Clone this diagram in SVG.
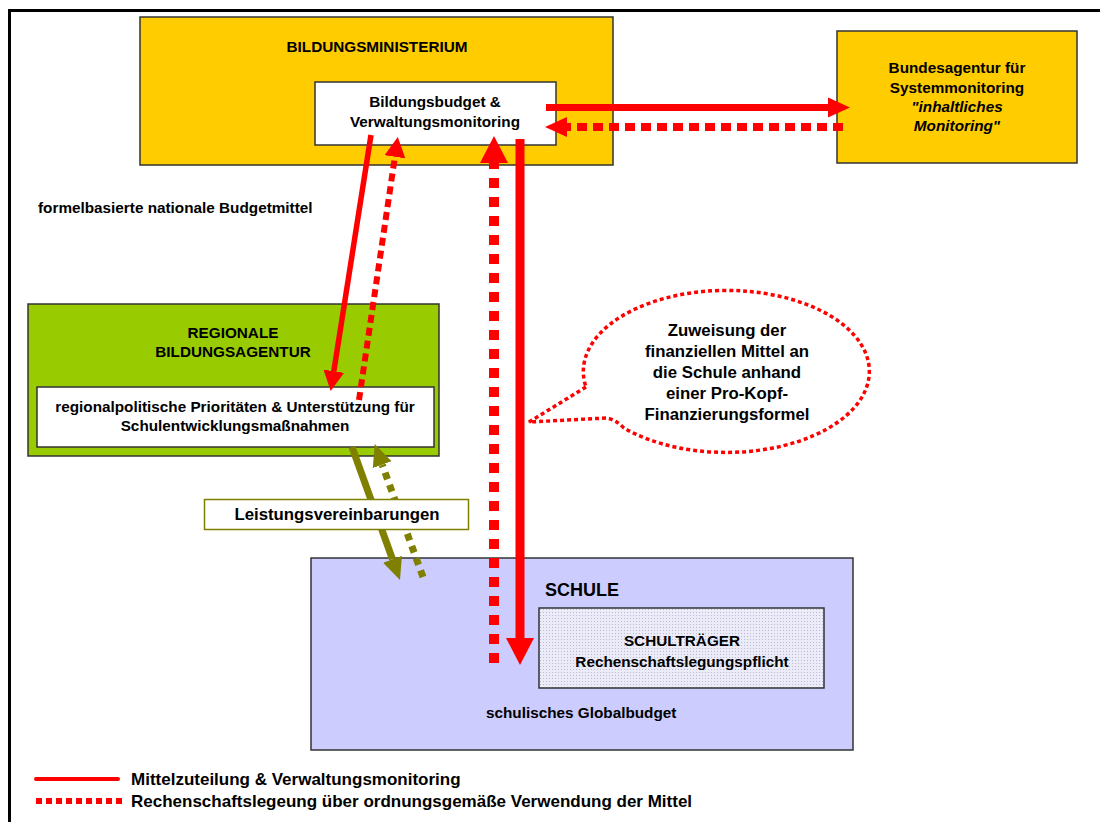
<svg xmlns="http://www.w3.org/2000/svg" width="1100" height="822" viewBox="0 0 1100 822">
<style>
text{font-family:"Liberation Sans",Arial,sans-serif;font-weight:bold;fill:#000}
.box{stroke:#333;stroke-width:1.5}
.c{text-anchor:middle}
.t15{font-size:15.3px}
.t17{font-size:16.8px}
.lg{font-size:17px}
.red{stroke:#FF0000;fill:none}
.olive{stroke:#808000;fill:none}
</style>
<defs>
<marker id="hBig" markerUnits="userSpaceOnUse" markerWidth="28" markerHeight="30" refX="0" refY="15" orient="auto"><path d="M0,1 L27,15 L0,29 z" fill="#FF0000"/></marker>
<marker id="hMid" markerUnits="userSpaceOnUse" markerWidth="24" markerHeight="22" refX="0" refY="11" orient="auto"><path d="M0,1 L22,11 L0,21 z" fill="#FF0000"/></marker>
<marker id="hSmall" markerUnits="userSpaceOnUse" markerWidth="22" markerHeight="23" refX="0" refY="11.5" orient="auto"><path d="M0,1 L20,11.5 L0,22 z" fill="#FF0000"/></marker>
<marker id="hOlive" markerUnits="userSpaceOnUse" markerWidth="24" markerHeight="22" refX="0" refY="11" orient="auto"><path d="M0,1 L22,11 L0,21 z" fill="#808000"/></marker>
<pattern id="dots" width="3" height="3" patternUnits="userSpaceOnUse"><rect width="3" height="3" fill="#ECECF8"/><rect width="1" height="1" fill="#B8B8D8"/></pattern>
</defs>
<rect width="1100" height="822" fill="#fff"/>
<path d="M9.5,822 V10.5 H1100" fill="none" stroke="#000" stroke-width="3"/>

<g id="ministerium">
<rect class="box" x="140" y="17" width="473" height="148" fill="#FFCC00"/>
<text class="c t15" x="377" y="52">BILDUNGSMINISTERIUM</text>
</g>
<g id="bildungsbudget">
<rect class="box" x="315" y="82" width="241" height="63" fill="#fff"/>
<text class="c t15" x="435" y="107">Bildungsbudget &amp;</text>
<text class="c t15" x="435" y="127">Verwaltungsmonitoring</text>
</g>
<g id="bundesagentur">
<rect class="box" x="837" y="31" width="240" height="132" fill="#FFCC00"/>
<text class="c t15" x="957" y="73">Bundesagentur für</text>
<text class="c t15" x="957" y="93">Systemmonitoring</text>
<text class="c t15" x="957" y="112" font-style="italic">"inhaltliches</text>
<text class="c t15" x="957" y="131" font-style="italic">Monitoring"</text>
</g>
<g id="budgetmittel-label">
<text class="t15" x="38" y="213">formelbasierte nationale Budgetmittel</text>
</g>
<g id="regionale">
<rect class="box" x="28" y="304" width="411" height="152" fill="#99CC00"/>
<text class="c t15" x="233" y="338">REGIONALE</text>
<text class="c t15" x="233" y="357">BILDUNGSAGENTUR</text>
</g>
<g id="prioritaeten">
<rect class="box" x="37" y="387" width="397" height="60" fill="#fff"/>
<text class="c t15" x="235" y="412">regionalpolitische Prioritäten &amp; Unterstützung für</text>
<text class="c t15" x="235" y="431">Schulentwicklungsmaßnahmen</text>
</g>
<g id="schule">
<rect class="box" x="311" y="558" width="542" height="192" fill="#CCCCFF"/>
<text x="545" y="596" font-size="18">SCHULE</text>
<text class="t15" x="486" y="718">schulisches Globalbudget</text>
</g>
<g id="schultraeger">
<rect class="box" x="539" y="608" width="285" height="80" fill="url(#dots)"/>
<text class="c t15" x="682" y="646">SCHULTRÄGER</text>
<text class="c t15" x="682" y="667">Rechenschaftslegungspflicht</text>
</g>
<g id="sprechblase">
<path d="M586,387 L529,422 L607,418 Q616,420 624,428 A143,81 0 1 0 586,387 Z" fill="#fff" stroke="#FF0000" stroke-width="3.5" stroke-dasharray="4 3"/>
<text class="c t17" x="727" y="336">Zuweisung der</text>
<text class="c t17" x="727" y="357">finanziellen Mittel an</text>
<text class="c t17" x="727" y="378">die Schule anhand</text>
<text class="c t17" x="727" y="399">einer Pro-Kopf-</text>
<text class="c t17" x="727" y="420">Finanzierungsformel</text>
</g>

<g id="connectors">
<line class="red" x1="546" y1="107.5" x2="828" y2="107.5" stroke-width="7" marker-end="url(#hMid)"/>
<line class="red" x1="843" y1="127" x2="567" y2="127" stroke-width="8" stroke-dasharray="10 6" marker-end="url(#hMid)"/>
<line class="red" x1="371" y1="135" x2="333.8" y2="371.2" stroke-width="5.5" marker-end="url(#hSmall)"/>
<line class="red" x1="359" y1="400" x2="394.9" y2="156.8" stroke-width="6" stroke-dasharray="8 5" marker-end="url(#hSmall)"/>
<line class="red" x1="494" y1="663" x2="494" y2="163" stroke-width="10" stroke-dasharray="10 9" marker-end="url(#hBig)"/>
<line class="red" x1="520" y1="139" x2="520" y2="638" stroke-width="9" marker-end="url(#hBig)"/>
<line class="olive" x1="352" y1="447" x2="392.5" y2="559.3" stroke-width="7" marker-end="url(#hOlive)"/>
<line class="olive" x1="423" y1="577" x2="382.2" y2="464.7" stroke-width="7" stroke-dasharray="7 6" marker-end="url(#hOlive)"/>
</g>

<g id="leistungsvereinbarungen">
<rect x="204.5" y="499.5" width="264" height="30" fill="#fff" stroke="#808000" stroke-width="1.5"/>
<text class="c t17" x="337" y="520">Leistungsvereinbarungen</text>
</g>

<g id="legende">
<line class="red" x1="36" y1="779" x2="118" y2="779" stroke-width="4" stroke-linecap="round"/>
<line class="red" x1="36" y1="801" x2="126" y2="801" stroke-width="6" stroke-dasharray="6 4"/>
<text class="lg" x="131" y="785">Mittelzuteilung &amp; Verwaltungsmonitoring</text>
<text class="lg" x="131" y="807">Rechenschaftslegeung über ordnungsgemäße Verwendung der Mittel</text>
</g>
</svg>
